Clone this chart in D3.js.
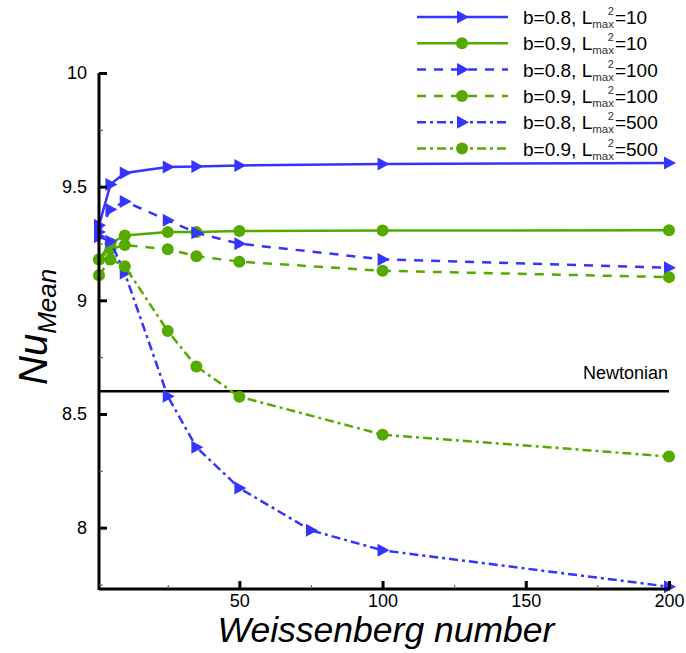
<!DOCTYPE html>
<html>
<head>
<meta charset="utf-8">
<script src="https://cdn.jsdelivr.net/npm/d3@7"></script>
<style>
  body { margin: 0; background: #fff; }
  svg { display: block; font-family: "Liberation Sans", Arial, sans-serif; }
</style>
</head>
<body>
<div id="chart"></div>
<script>
// Weissenberg numbers sampled
const wi = [1, 5, 10, 25, 35, 50, 100, 200];
const wiLong = [1, 5, 10, 25, 35, 50, 75, 100, 200];

// mean Nusselt number per case
const nuB08L10 = [9.33, 9.51, 9.56, 9.586, 9.589, 9.593, 9.60, 9.604];
const nuB09L10 = [9.18, 9.25, 9.285, 9.30, 9.30, 9.305, 9.307, 9.308];
const nuB08L100 = [9.30, 9.40, 9.435, 9.352, 9.297, 9.249, 9.18, 9.143];
const nuB09L100 = [9.18, 9.225, 9.243, 9.225, 9.194, 9.17, 9.13, 9.102];
const nuB08L500 = [9.28, 9.26, 9.12, 8.578, 8.354, 8.174, 7.988, 7.90, 7.74];
const nuB09L500 = [9.11, 9.18, 9.15, 8.865, 8.709, 8.576, 8.409, 8.313];

const nuNewtonian = 8.6;

const legendB = ["0.8", "0.9", "0.8", "0.9", "0.8", "0.9"];
const legendL = ["10", "10", "100", "100", "500", "500"];

const xTicks = [50, 100, 150, 200];
const xMinor = [25, 75, 125, 175];
const yTicks = [8, 8.5, 9, 9.5, 10];
const yMinor = [7.75, 8.25, 8.75, 9.25, 9.75];

const blue = "#3535ff";
const green = "#55aa00";

// series table built from the arrays above
const series = [
  { x: wi, y: nuB08L10, color: blue, dash: null, marker: "tri" },
  { x: wi, y: nuB09L10, color: green, dash: null, marker: "dot" },
  { x: wi, y: nuB08L100, color: blue, dash: "9,8", marker: "tri" },
  { x: wi, y: nuB09L100, color: green, dash: "9,8", marker: "dot" },
  { x: wiLong, y: nuB08L500, color: blue, dash: "9,4,3,4", marker: "tri" },
  { x: wi, y: nuB09L500, color: green, dash: "9,4,3,4", marker: "dot" }
];

const width = 686, height = 653;
const svg = d3.select("#chart").append("svg")
  .attr("width", width).attr("height", height);

const x = d3.scaleLinear().domain([1, 200]).range([99, 669]);
const y = d3.scaleLinear().domain([7.73, 10]).range([589, 73]);

//newtonian reference line
svg.append("line")
  .attr("x1", x(1)).attr("x2", x(200))
  .attr("y1", y(nuNewtonian)).attr("y2", y(nuNewtonian))
  .attr("stroke", "#000").attr("stroke-width", 2.5);
svg.append("text")
  .attr("x", 668).attr("y", y(nuNewtonian) - 12)
  .attr("text-anchor", "end").attr("font-size", 18)
  .text("Newtonian");

const line = d3.line().x(d => x(d[0])).y(d => y(d[1]));

function drawMarker(g, kind, cx, cy, color) {
  if (kind === "dot") {
    g.append("circle").attr("cx", cx).attr("cy", cy).attr("r", 6).attr("fill", color);
  } else {
    g.append("path")
      .attr("d", `M${cx - 5},${cy - 6.5}L${cx + 7},${cy}L${cx - 5},${cy + 6.5}Z`)
      .attr("fill", color);
  }
}

//series lines and markers
const plot = svg.append("g");
series.forEach(s => {
  const pts = s.x.map((v, i) => [v, s.y[i]]);
  plot.append("path")
    .attr("d", line(pts))
    .attr("fill", "none")
    .attr("stroke", s.color)
    .attr("stroke-width", 2.5)
    .attr("stroke-dasharray", s.dash);
  pts.forEach(p => drawMarker(plot, s.marker, x(p[0]), y(p[1]), s.color));
});

//axes
const xAxis = svg.append("g").attr("transform", `translate(0,${y.range()[0]})`)
  .call(d3.axisBottom(x).tickValues(xTicks).tickSize(-8).tickPadding(5).tickFormat(d3.format("d")));
const xAxisMinor = svg.append("g").attr("transform", `translate(0,${y.range()[0]})`)
  .call(d3.axisBottom(x).tickValues(xMinor).tickSize(-4).tickFormat(""));
const yAxis = svg.append("g").attr("transform", `translate(${x.range()[0]},0)`)
  .call(d3.axisLeft(y).tickValues(yTicks).tickSize(-8).tickPadding(12).tickFormat(d => d3.format("")(d)));
const yAxisMinor = svg.append("g").attr("transform", `translate(${x.range()[0]},0)`)
  .call(d3.axisLeft(y).tickValues(yMinor).tickSize(-4).tickFormat(""));

[xAxis, yAxis].forEach(a => {
  a.select(".domain").attr("stroke", "#000").attr("stroke-width", 3)
    .attr("d", a === xAxis ? `M${x.range()[0]},0H${x.range()[1] + 1}` : `M0,${y.range()[0] + 1}V${y.range()[1]}`);
  a.selectAll(".tick line").attr("stroke", "#000").attr("stroke-width", 3);
  a.selectAll(".tick text").attr("font-size", 18).attr("fill", "#000")
    .attr("font-family", "Liberation Sans, Arial, sans-serif");
});
[xAxisMinor, yAxisMinor].forEach(a => {
  a.select(".domain").remove();
  a.selectAll(".tick line").attr("stroke", "#555").attr("stroke-width", 1);
});

//axis titles
svg.append("text")
  .attr("x", 386).attr("y", 642)
  .attr("text-anchor", "middle")
  .attr("font-size", 35.5).attr("font-style", "italic")
  .text("Weissenberg number");

const yTitle = svg.append("text")
  .attr("transform", "translate(47,385) rotate(-90)")
  .attr("font-style", "italic");
yTitle.append("tspan").attr("font-size", 40).text("Nu");
yTitle.append("tspan").attr("font-size", 26).attr("dy", 9).text("Mean");

//legend: one text per row, sub/superscript stacked via tspans
const legend = svg.append("g");
const rowY = i => 17 + i * 26.3;
series.forEach((s, i) => {
  const ly = rowY(i);
  legend.append("line")
    .attr("x1", 417).attr("x2", 508)
    .attr("y1", ly).attr("y2", ly)
    .attr("stroke", s.color).attr("stroke-width", 2.5)
    .attr("stroke-dasharray", s.dash);
  drawMarker(legend, s.marker, 462, ly, s.color);

  const t = legend.append("text").attr("x", 523).attr("y", ly + 7).attr("font-size", 19);
  t.append("tspan").text(`b=${legendB[i]}, L`);
  t.append("tspan").attr("font-size", 11.5).attr("fill", "#333").attr("dy", 4).text("max");
  t.append("tspan").attr("font-size", 11).attr("fill", "#333").attr("dx", -6.1).attr("dy", -13).text("2");
  t.append("tspan").attr("dx", 1).attr("dy", 9).text(`=${legendL[i]}`);
});
</script>
</body>
</html>
